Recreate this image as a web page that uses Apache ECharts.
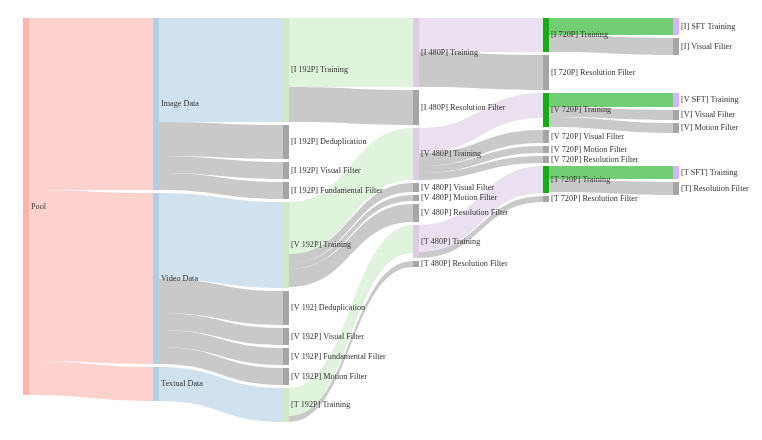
<!DOCTYPE html>
<html>
<head>
<meta charset="utf-8">
<script src="https://cdn.jsdelivr.net/npm/echarts@6/dist/echarts.min.js"></script>
<style>
  html, body { margin: 0; padding: 0; background: #fff; }
  #chart { width: 762px; height: 440px; }
</style>
</head>
<body>
<div id="chart"></div>
<script>
// ---- Data ----
const sourceNodes = ['Pool'];
const dataNodes = ['Image Data', 'Video Data', 'Textual Data'];
const stage192Nodes = ['[I 192P] Training', '[I 192P] Deduplication', '[I 192P] Visual Filter', '[I 192P] Fundamental Filter',
  '[V 192P] Training', '[V 192] Deduplication', '[V 192P] Visual Filter', '[V 192P] Fundamental Filter', '[V 192P] Motion Filter',
  '[T 192P] Training'];
const stage480Nodes = ['[I 480P] Training', '[I 480P] Resolution Filter', '[V 480P] Training', '[V 480P] Visual Filter',
  '[V 480P] Motion Filter', '[V 480P] Resolution Filter', '[T 480P] Training', '[T 480P] Resolution Filter'];
const stage720Nodes = ['[I 720P] Training', '[I 720P] Resolution Filter', '[V 720P] Training', '[V 720P] Visual Filter',
  '[V 720P] Motion Filter', '[V 720P] Resolution Filter', '[T 720P] Training', '[T 720P] Resolution Filter'];
const stageSFTNodes = ['[I] SFT Training', '[I] Visual Filter', '[V SFT] Training', '[V] Visual Filter', '[V] Motion Filter',
  '[T SFT] Training', '[T] Resolution Filter'];

const poolFlows = [
  ['Pool', 'Image Data', 172],
  ['Pool', 'Video Data', 171],
  ['Pool', 'Textual Data', 34]
];
const flows192 = [
  ['Image Data', '[I 192P] Training', 104],
  ['Image Data', '[I 192P] Deduplication', 34],
  ['Image Data', '[I 192P] Visual Filter', 17],
  ['Image Data', '[I 192P] Fundamental Filter', 17],
  ['Video Data', '[V 192P] Training', 86],
  ['Video Data', '[V 192] Deduplication', 34],
  ['Video Data', '[V 192P] Visual Filter', 17],
  ['Video Data', '[V 192P] Fundamental Filter', 17],
  ['Video Data', '[V 192P] Motion Filter', 17],
  ['Textual Data', '[T 192P] Training', 34]
];
const flows480 = [
  ['[I 192P] Training', '[I 480P] Training', 69],
  ['[I 192P] Training', '[I 480P] Resolution Filter', 35],
  ['[V 192P] Training', '[V 480P] Training', 52],
  ['[V 192P] Training', '[V 480P] Visual Filter', 9],
  ['[V 192P] Training', '[V 480P] Motion Filter', 6],
  ['[V 192P] Training', '[V 480P] Resolution Filter', 18],
  ['[T 192P] Training', '[T 480P] Training', 28],
  ['[T 192P] Training', '[T 480P] Resolution Filter', 6]
];
const flows720 = [
  ['[I 480P] Training', '[I 720P] Training', 34],
  ['[I 480P] Training', '[I 720P] Resolution Filter', 35],
  ['[V 480P] Training', '[V 720P] Training', 25],
  ['[V 480P] Training', '[V 720P] Visual Filter', 13],
  ['[V 480P] Training', '[V 720P] Motion Filter', 7],
  ['[V 480P] Training', '[V 720P] Resolution Filter', 7],
  ['[T 480P] Training', '[T 720P] Training', 27],
  ['[T 480P] Training', '[T 720P] Resolution Filter', 6]
];
const flowsSFT = [
  ['[I 720P] Training', '[I] SFT Training', 17],
  ['[I 720P] Training', '[I] Visual Filter', 17],
  ['[V 720P] Training', '[V SFT] Training', 14],
  ['[V 720P] Training', '[V] Visual Filter', 10],
  ['[V 720P] Training', '[V] Motion Filter', 10],
  ['[T 720P] Training', '[T SFT] Training', 13],
  ['[T 720P] Training', '[T] Resolution Filter', 13]
];

// ---- Styling helpers ----
function isFilter(name) { return /Filter|Deduplication/.test(name); }
function nodeColor(name) {
  if (name === 'Pool') return '#fbb4ae';
  if (/Data$/.test(name)) return '#b3cde3';
  if (isFilter(name)) return '#a5a5a5';
  if (/192P/.test(name)) return '#ccebc5';
  if (/480P/.test(name)) return '#decbe4';
  if (/720P/.test(name)) return '#14ae14';
  if (/SFT/.test(name)) return '#d3b5fb';
  return '#cccccc';
}

const allNodeNames = [].concat(sourceNodes, dataNodes, stage192Nodes, stage480Nodes, stage720Nodes, stageSFTNodes);
const allFlows = [].concat(poolFlows, flows192, flows480, flows720, flowsSFT);

function buildNodes(localYMap) {
  return allNodeNames.map(function (n) {
    const item = { name: n, itemStyle: { color: nodeColor(n), borderWidth: 0 } };
    if (localYMap && localYMap[n] != null) item.localY = localYMap[n];
    return item;
  });
}
const links = allFlows.map(function (f) {
  return {
    source: f[0], target: f[1], value: f[2],
    lineStyle: { color: isFilter(f[1]) ? 'target' : 'source' }
  };
});

function buildOption(localYMap) {
  return {
    animation: false,
    backgroundColor: '#fff',
    series: [{
      type: 'sankey',
      left: 23, right: 83, top: 18, bottom: 18,
      nodeWidth: 6,
      nodeGap: 3,
      nodeAlign: 'left',
      layoutIterations: 0,
      draggable: false,
      emphasis: { disabled: true },
      label: {
        show: true,
        position: 'right',
        distance: 2,
        color: '#333',
        fontFamily: 'Liberation Serif',
        fontSize: 8.2
      },
      lineStyle: { curveness: 0.5, opacity: 0.6 },
      data: buildNodes(localYMap),
      links: links
    }]
  };
}

const chart = echarts.init(document.getElementById('chart'), null, { renderer: 'canvas' });
chart.setOption(buildOption(null));

// Place the final-stage nodes next to where their incoming flow leaves the source,
// using the library's own computed layout.
try {
  const seriesModel = chart.getModel().getSeriesByIndex(0);
  const graph = seriesModel.getGraph();
  const H = (seriesModel.layoutInfo && seriesModel.layoutInfo.height) || 404;
  let maxX = -Infinity;
  graph.eachNode(function (n) { maxX = Math.max(maxX, n.getLayout().x); });
  const last = [];
  graph.eachNode(function (n) { if (Math.abs(n.getLayout().x - maxX) < 0.5) last.push(n); });
  last.sort(function (a, b) { return a.getLayout().y - b.getLayout().y; });
  const gap = 3;
  let floor = 0;
  const localYMap = {};
  last.forEach(function (n) {
    const e = n.inEdges[0];
    let y = e.node1.getLayout().y + e.getLayout().sy;
    y = Math.max(y, floor);
    floor = y + n.getLayout().dy + gap;
    localYMap[n.id] = y / H;
  });
  chart.setOption(buildOption(localYMap), true);
} catch (err) {
  console.log('adjust failed', err);
}
</script>
</body>
</html>
